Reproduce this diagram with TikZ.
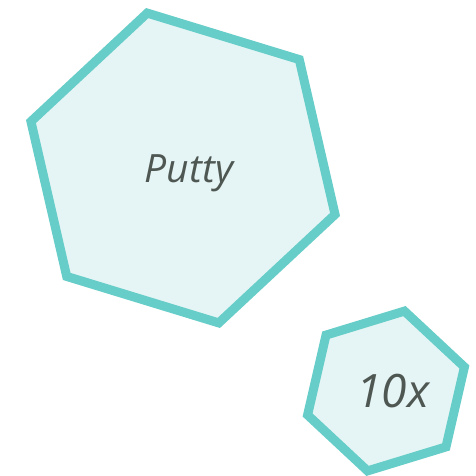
\documentclass[tikz,border=0pt]{standalone}
\usepackage{fontspec}
\setmainfont{Open Sans}
\usepackage{tikz}
\usetikzlibrary{shapes.geometric}
\definecolor{hexLine}{RGB}{102,205,200}
\definecolor{hexFill}{RGB}{229,245,245}
\definecolor{labelGray}{RGB}{79,87,83}

\begin{document}
\begin{tikzpicture}[
    x=1pt, y=-1pt,
    hexagon/.style={regular polygon, regular polygon sides=6, draw=hexLine, fill=hexFill, line width=9pt, inner sep=0pt, outer sep=0pt},
    hexlabel/.style={text=labelGray, font=\itshape, inner sep=0pt}
]
\useasboundingbox (0,0) rectangle (475,476);

% Hexagons
\node[hexagon, minimum size=318pt, regular polygon rotate=-17] (putty) at (183,168) {};
\node[hexagon, minimum size=164pt, regular polygon rotate=17] (tenx) at (386,391) {};

% Labels
\node[hexlabel, font=\fontsize{39}{42}\selectfont\itshape] (puttylabel) at (189,173) {Putty};
\node[hexlabel, font=\fontsize{46}{49}\selectfont\itshape] (tenxlabel) at (393,391) {10x};

\end{tikzpicture}
\end{document}
